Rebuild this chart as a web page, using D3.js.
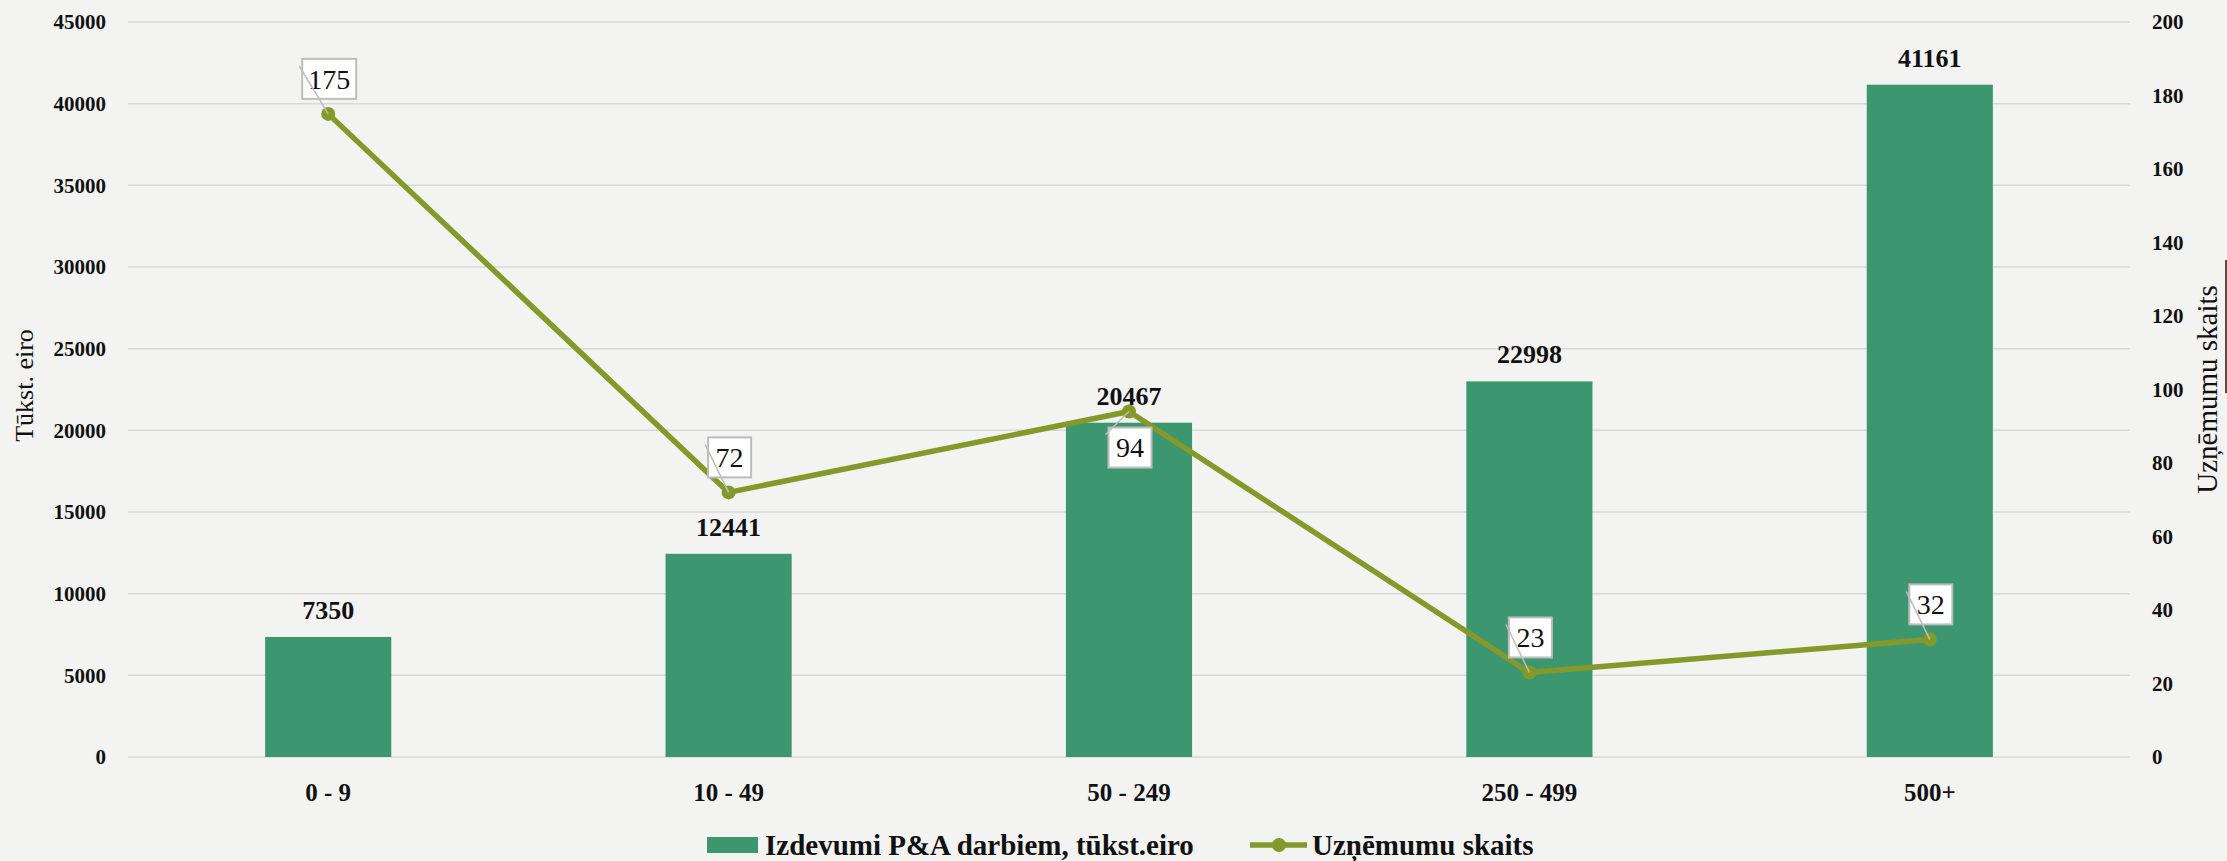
<!DOCTYPE html>
<html>
<head>
<meta charset="utf-8">
<script src="https://cdn.jsdelivr.net/npm/d3@7"></script>
<style>
  html, body { margin: 0; padding: 0; background: #f3f3f2; }
  svg { display: block; }
  text { font-family: "Liberation Serif", "DejaVu Serif", serif; fill: #111; }
</style>
</head>
<body>
<div id="chart"></div>
<script>
// data
const categories = ["0 - 9", "10 - 49", "50 - 249", "250 - 499", "500+"];
const spending = [7350, 12441, 20467, 22998, 41161];   // Izdevumi P&A darbiem, tūkst.eiro
const companies = [175, 72, 94, 23, 32];               // Uzņēmumu skaits
const leftTicks = [0, 5000, 10000, 15000, 20000, 25000, 30000, 35000, 40000, 45000];
const rightTicks = [0, 20, 40, 60, 80, 100, 120, 140, 160, 180, 200];

const barColor = "#3c9771",
    lineColor = "#84992a";

const width = 2227, height = 861;
const margin = {top: 22, right: 97, bottom: 104, left: 128};

const svg = d3.select("#chart").append("svg")
    .attr("width", width)
    .attr("height", height);

const x = d3.scaleBand()
    .domain(categories)
    .range([margin.left, width - margin.right])
    .padding(0);

const yL = d3.scaleLinear()
    .domain([0, 45000])
    .range([height - margin.bottom, margin.top]);

const yR = d3.scaleLinear()
    .domain([0, 200])
    .range([height - margin.bottom, margin.top]);

const barW = x.bandwidth() * 0.315;

// grid
svg.append("g").selectAll("line")
    .data(leftTicks)
    .join("line")
    .attr("x1", margin.left)
    .attr("x2", width - margin.right)
    .attr("y1", d => yL(d))
    .attr("y2", d => yL(d))
    .attr("stroke", "#d9d9d9")
    .attr("stroke-width", 1.5);

// left axis labels
svg.append("g").selectAll("text")
    .data(leftTicks)
    .join("text")
    .attr("x", 106)
    .attr("y", d => yL(d))
    .attr("dy", "0.35em")
    .attr("text-anchor", "end")
    .style("font-size", "21px")
    .style("font-weight", "bold")
    .text(d => d);

// right axis labels
svg.append("g").selectAll("text")
    .data(rightTicks)
    .join("text")
    .attr("x", 2152)
    .attr("y", d => yR(d))
    .attr("dy", "0.35em")
    .attr("text-anchor", "start")
    .style("font-size", "21px")
    .style("font-weight", "bold")
    .text(d => d);

// axis titles
svg.append("text")
    .attr("transform", "translate(33," + (yL(22500) - 4) + ") rotate(-90)")
    .attr("text-anchor", "middle")
    .style("font-size", "26px")
    .text("Tūkst. eiro");

svg.append("text")
    .attr("transform", "translate(2217," + (yR(100)) + ") rotate(-90)")
    .attr("text-anchor", "middle")
    .style("font-size", "29px")
    .text("Uzņēmumu skaits");

// little dark mark at the right edge
svg.append("line")
    .attr("x1", 2226).attr("x2", 2226)
    .attr("y1", 260).attr("y2", 393)
    .attr("stroke", "#5a4a3a")
    .attr("stroke-width", 2);

// category labels
svg.append("g").selectAll("text")
    .data(categories)
    .join("text")
    .attr("x", d => x(d) + x.bandwidth() / 2)
    .attr("y", 792)
    .attr("dy", "0.35em")
    .attr("text-anchor", "middle")
    .style("font-size", "25px")
    .style("font-weight", "bold")
    .text(d => d);

// bars
svg.append("g").selectAll("rect")
    .data(spending)
    .join("rect")
    .attr("x", (d, i) => x(categories[i]) + (x.bandwidth() - barW) / 2)
    .attr("y", d => yL(d))
    .attr("width", barW)
    .attr("height", d => yL(0) - yL(d))
    .attr("fill", barColor);

// bar labels
svg.append("g").selectAll("text")
    .data(spending)
    .join("text")
    .attr("x", (d, i) => x(categories[i]) + x.bandwidth() / 2)
    .attr("y", d => yL(d) - 18)
    .attr("text-anchor", "middle")
    .style("font-size", "26px")
    .style("font-weight", "bold")
    .text(d => d);

// line
const pts = companies.map((v, i) => [x(categories[i]) + x.bandwidth() / 2, yR(v)]);

svg.append("path")
    .attr("d", d3.line()(pts))
    .attr("fill", "none")
    .attr("stroke", lineColor)
    .attr("stroke-width", 5.5)
    .attr("stroke-linejoin", "round");

svg.append("g").selectAll("circle")
    .data(pts)
    .join("circle")
    .attr("cx", d => d[0])
    .attr("cy", d => d[1])
    .attr("r", 7)
    .attr("fill", lineColor);

// line data labels (callouts)
const below = [false, false, true, false, false];
const bh = 40;
const lab = svg.append("g");
pts.forEach(function (p, i) {
    const bw = companies[i] >= 100 ? 54 : 43;
    const cx = p[0] + 1,
        cy = below[i] ? p[1] + 36 : p[1] - 35;
    const bx = cx - bw / 2, by = cy - bh / 2;
    const g = lab.append("g");
    g.append("rect")
        .attr("x", bx)
        .attr("y", by)
        .attr("width", bw)
        .attr("height", bh)
        .attr("fill", "#fff")
        .attr("stroke", "#bdbdbd")
        .attr("stroke-width", 2);
    g.append("text")
        .attr("x", cx)
        .attr("y", cy)
        .attr("dy", "0.35em")
        .attr("text-anchor", "middle")
        .style("font-size", "28px")
        .text(companies[i]);
    g.append("line")
        .attr("x1", bx - 3)
        .attr("y1", by + 7)
        .attr("x2", p[0])
        .attr("y2", p[1])
        .attr("stroke", "#bdbdbd")
        .attr("stroke-width", 1.5);
});

// legend
const leg = svg.append("g");
leg.append("rect")
    .attr("x", 707).attr("y", 837)
    .attr("width", 51).attr("height", 16)
    .attr("fill", barColor);
leg.append("text")
    .attr("x", 765).attr("y", 845)
    .attr("dy", "0.35em")
    .style("font-size", "29px")
    .style("font-weight", "bold")
    .text("Izdevumi P&A darbiem, tūkst.eiro");

leg.append("line")
    .attr("x1", 1250).attr("x2", 1307)
    .attr("y1", 845).attr("y2", 845)
    .attr("stroke", lineColor)
    .attr("stroke-width", 5.5);
leg.append("circle")
    .attr("cx", 1279).attr("cy", 845)
    .attr("r", 7)
    .attr("fill", lineColor);
leg.append("text")
    .attr("x", 1312).attr("y", 845)
    .attr("dy", "0.35em")
    .style("font-size", "29px")
    .style("font-weight", "bold")
    .text("Uzņēmumu skaits");
</script>
</body>
</html>
